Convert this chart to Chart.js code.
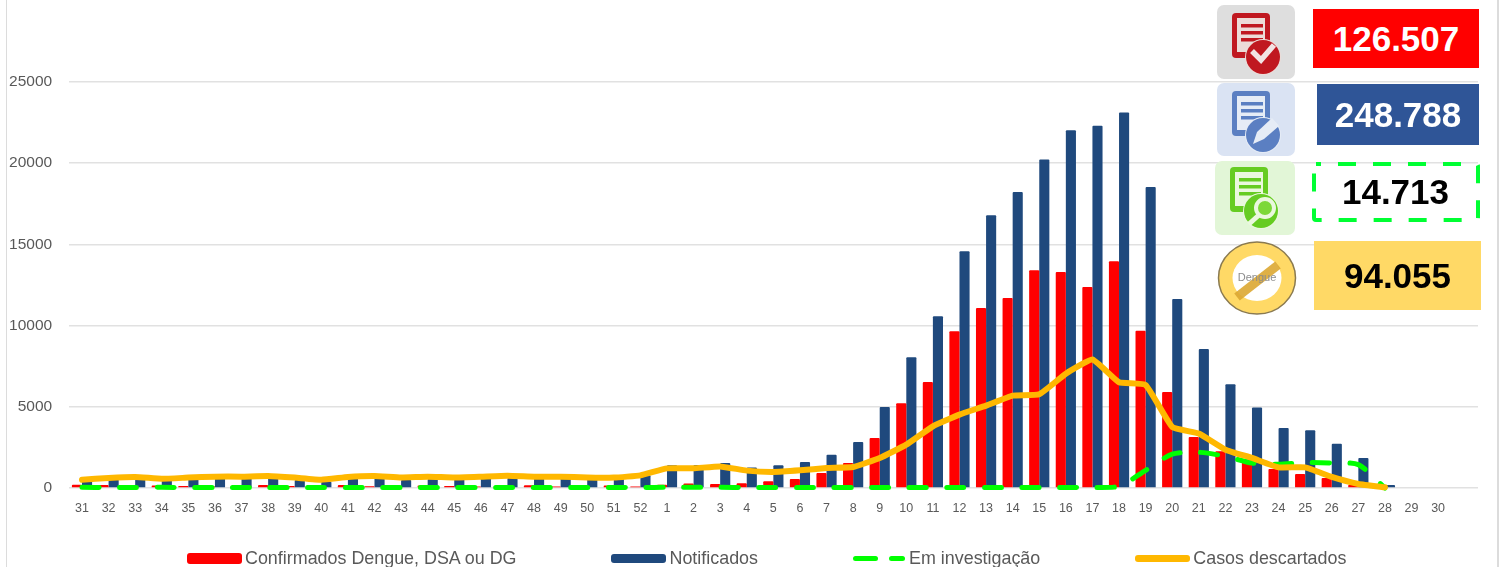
<!DOCTYPE html>
<html>
<head>
<meta charset="utf-8">
<script src="https://cdn.jsdelivr.net/npm/chart.js@4"></script>
<style>
html, body { margin: 0; padding: 0; background: #fff; }
body { width: 1502px; height: 567px; position: relative; overflow: hidden; font-family: "Liberation Sans", sans-serif; }
#chart { position: absolute; left: 0; top: 0; }
.edge { position: absolute; top: 0; width: 1px; height: 567px; background: #dcdcdc; }
.legend { position: absolute; left: 187px; top: 548px; display: flex; gap: 95px; font-size: 17.9px; line-height: 20px; color: #595959; white-space: nowrap; }
.legend div { display: flex; align-items: center; }
.swatch { width: 55px; border-radius: 3px; margin-right: 3px; }
.dash { display: inline-block; width: 25px; height: 5px; border-radius: 3px; background: #00ff00; margin-right: 11px; }
.tile { position: absolute; }
.kpi { position: absolute; box-sizing: border-box; display: flex; align-items: center; justify-content: center; font-weight: bold; font-size: 35px; }
</style>
</head>
<body>
<canvas id="chart" width="1502" height="567"></canvas>
<div class="edge" style="left:6px"></div>
<div class="edge" style="left:1497px;width:2px"></div>
<div class="legend" id="legend"></div>
<div id="panel"></div>
<script>
const weeks = [31,32,33,34,35,36,37,38,39,40,41,42,43,44,45,46,47,48,49,50,51,52,
    1,2,3,4,5,6,7,8,9,10,11,12,13,14,15,16,17,18,19,20,21,22,23,24,25,26,27,28,29,30];

const confirmados = [200,180,120,150,130,110,140,190,120,170,190,110,130,150,120,90,180,170,100,180,150,100,
    200,280,250,300,410,550,920,1540,3080,5215,6530,9650,11090,11700,13410,13300,12380,13960,9690,5910,3140,2260,1750,1170,860,620,200,0,0,0];

const notificados = [500,620,800,500,560,650,620,700,500,380,620,680,500,560,520,600,620,620,600,520,560,780,
    1400,1420,1540,1270,1400,1600,2050,2830,4990,8050,10575,14580,16800,18230,20225,22030,22300,23120,18540,11640,8560,6390,4950,3700,3550,2730,1850,190,0,0];

const investigacao = [40,30,30,40,30,30,30,30,30,30,30,30,30,30,30,30,30,30,30,30,30,30,
    40,40,40,30,30,30,30,30,30,30,30,30,30,30,30,30,30,100,1090,2080,2200,1950,1540,1460,1560,1540,1440,0,null,null];

const descartados = [510,620,680,570,640,700,700,740,640,510,680,740,650,700,650,700,760,700,700,640,640,780,
    1210,1210,1330,1070,990,1090,1230,1290,1850,2670,3800,4520,5070,5690,5770,7040,7910,6510,6345,3760,3350,2360,1850,1270,1270,680,250,40,null,null];

const seriesNames = ["Confirmados Dengue, DSA ou DG", "Notificados", "Em investigação", "Casos descartados"];
const seriesColors = ["#ff0000", "#1f497d", "#00ff00", "#ffb800"];

const yTicks = [0, 5000, 10000, 15000, 20000, 25000];

const kpiValues = ["126.507", "248.788", "14.713", "94.055"];

function points(values) {
    return values.map((v, i) => ({ x: i, y: v }));
}

new Chart(document.getElementById("chart"), {
    type: "bar",
    data: {
        datasets: [
            { label: seriesNames[0], data: points(confirmados), backgroundColor: seriesColors[0], order: 3, borderRadius: 1 },
            { label: seriesNames[1], data: points(notificados), backgroundColor: seriesColors[1], order: 3, borderRadius: 1 },
            { type: "line", label: seriesNames[2], data: points(investigacao), borderColor: seriesColors[2], borderWidth: 5,
              borderDash: [17, 20.6], borderCapStyle: "round", pointRadius: 0, tension: 0.25, clip: 10, order: 2 },
            { type: "line", label: seriesNames[3], data: points(descartados), borderColor: seriesColors[3], borderWidth: 6,
              borderJoinStyle: "round", borderCapStyle: "round", pointRadius: 0, tension: 0.12, clip: 10, order: 1 }
        ]
    },
    options: {
        responsive: false,
        animation: false,
        layout: { padding: { top: 82, right: 24, left: 0, bottom: 0 } },
        datasets: { bar: { categoryPercentage: 0.76, barPercentage: 1 } },
        plugins: { legend: { display: false }, tooltip: { enabled: false } },
        scales: {
            x: {
                type: "linear",
                offset: false,
                min: -0.5,
                max: 52.5,
                border: { display: false },
                grid: { display: false },
                afterBuildTicks: s => { s.ticks = weeks.map((w, i) => ({ value: i })); },
                afterFit: s => { s.height = 79; },
                ticks: {
                    autoSkip: false,
                    maxRotation: 0,
                    padding: 5,
                    color: "#595959",
                    font: { family: "Liberation Sans", size: 12.5 },
                    callback: v => weeks[v]
                }
            },
            y: {
                min: 0,
                max: 25000,
                border: { display: false },
                afterBuildTicks: s => { s.ticks = yTicks.map(v => ({ value: v })); },
                afterFit: s => { s.width = 68.7; },
                grid: { color: "#e1e1e1", lineWidth: 1.6, drawTicks: false },
                ticks: {
                    padding: 16.5,
                    color: "#595959",
                    font: { family: "Liberation Sans", size: 15.5 },
                    callback: v => String(v)
                }
            }
        }
    }
});

// legend
const swatchHeights = [11, 9, 5, 7];
const legendBox = document.getElementById("legend");
seriesNames.forEach((name, i) => {
    const item = document.createElement("div");
    let mark = `<span class="swatch" style="background:${seriesColors[i]};height:${swatchHeights[i]}px"></span>`;
    if (i == 2) mark = `<span class="dash"></span><span class="dash" style="width:16px;margin-right:4px"></span>`;
    item.innerHTML = mark + `<span></span>`;
    item.lastChild.textContent = name;
    legendBox.appendChild(item);
});

// icons and totals on the right
function docIcon(dark, light, badge, dy) {
    return `<g transform="translate(0 ${dy})"><rect x="15" y="8" width="38" height="45" rx="4" fill="${dark}"/>
        <rect x="20" y="13" width="28" height="34" fill="${light}"/>
        <rect x="24" y="19" width="22" height="3.5" fill="${dark}"/>
        <rect x="24" y="26" width="22" height="3.5" fill="${dark}"/>
        <rect x="24" y="33" width="22" height="3.5" fill="${dark}"/>
        <circle cx="46" cy="52" r="18" fill="${light}"/>
        <circle cx="46" cy="52" r="17" fill="${dark}"/>${badge}</g>`;
}

const tiles = [
    { x: 1217, y: 5, w: 78, h: 74, bg: "#dedede", svg: docIcon("#c01820", "#ecdcd8", `<path d="M35 46 L44 55 L57 40" fill="none" stroke="#f2e4e4" stroke-width="5.5"/>`, 0) },
    { x: 1217, y: 83, w: 78, h: 73, bg: "#dae3f3", svg: docIcon("#5b7fc2", "#e6ecf6", `<path d="M36 61 L40 49 L55 35 L62 43 L47 56 Z" fill="#e6ecf6"/>`, 0) },
    { x: 1215, y: 161, w: 80, h: 74, bg: "#e2f6d7", svg: docIcon("#66cc22", "#eaf8de", `<circle cx="50" cy="49" r="9" fill="#7cd838" stroke="#eaf8de" stroke-width="4"/><path d="M44 56 L34 65" stroke="#eaf8de" stroke-width="5"/>`, -2) },
    { x: 1217, y: 240, w: 80, h: 76, bg: "none", svg: `<ellipse cx="40" cy="38" rx="38.5" ry="36" fill="#ffd966" stroke="#8a7a50" stroke-width="1.5"/>
        <ellipse cx="40" cy="38" rx="24.5" ry="23" fill="#fff"/>
        <path d="M20 57 L61 25" stroke="#dca832" stroke-width="9" opacity="0.9"/>
        <text x="40" y="41" font-size="11" text-anchor="middle" fill="#8c8c8c" font-family="Liberation Sans">Dengue</text>` }
];

const kpis = [
    { x: 1313, y: 9, w: 166, h: 59, style: "background:#ff0000;color:#fff" },
    { x: 1317, y: 84, w: 162, h: 61, style: "background:#2f5597;color:#fff" },
    { x: 1313, y: 163, w: 165, h: 58, style: "color:#000" },
    { x: 1314, y: 241, w: 167, h: 69, style: "background:#ffd966;color:#000" }
];

const panel = document.getElementById("panel");
tiles.forEach(t => {
    const radius = t.bg == "none" ? 0 : 7;
    panel.innerHTML += `<svg class="tile" width="${t.w}" height="${t.h}" style="left:${t.x}px;top:${t.y}px;background:${t.bg};border-radius:${radius}px">${t.svg}</svg>`;
});
// white box with the long green dashes
panel.innerHTML += `<svg class="tile" width="170" height="62" style="left:1311px;top:161px"><rect x="3" y="3" width="164" height="56" rx="2" fill="#fff" stroke="#00ff33" stroke-width="4" stroke-dasharray="18 17" stroke-dashoffset="-22"/></svg>`;
kpis.forEach((k, i) => {
    panel.innerHTML += `<div class="kpi" style="left:${k.x}px;top:${k.y}px;width:${k.w}px;height:${k.h}px;${k.style}">${kpiValues[i]}</div>`;
});
</script>
</body>
</html>
